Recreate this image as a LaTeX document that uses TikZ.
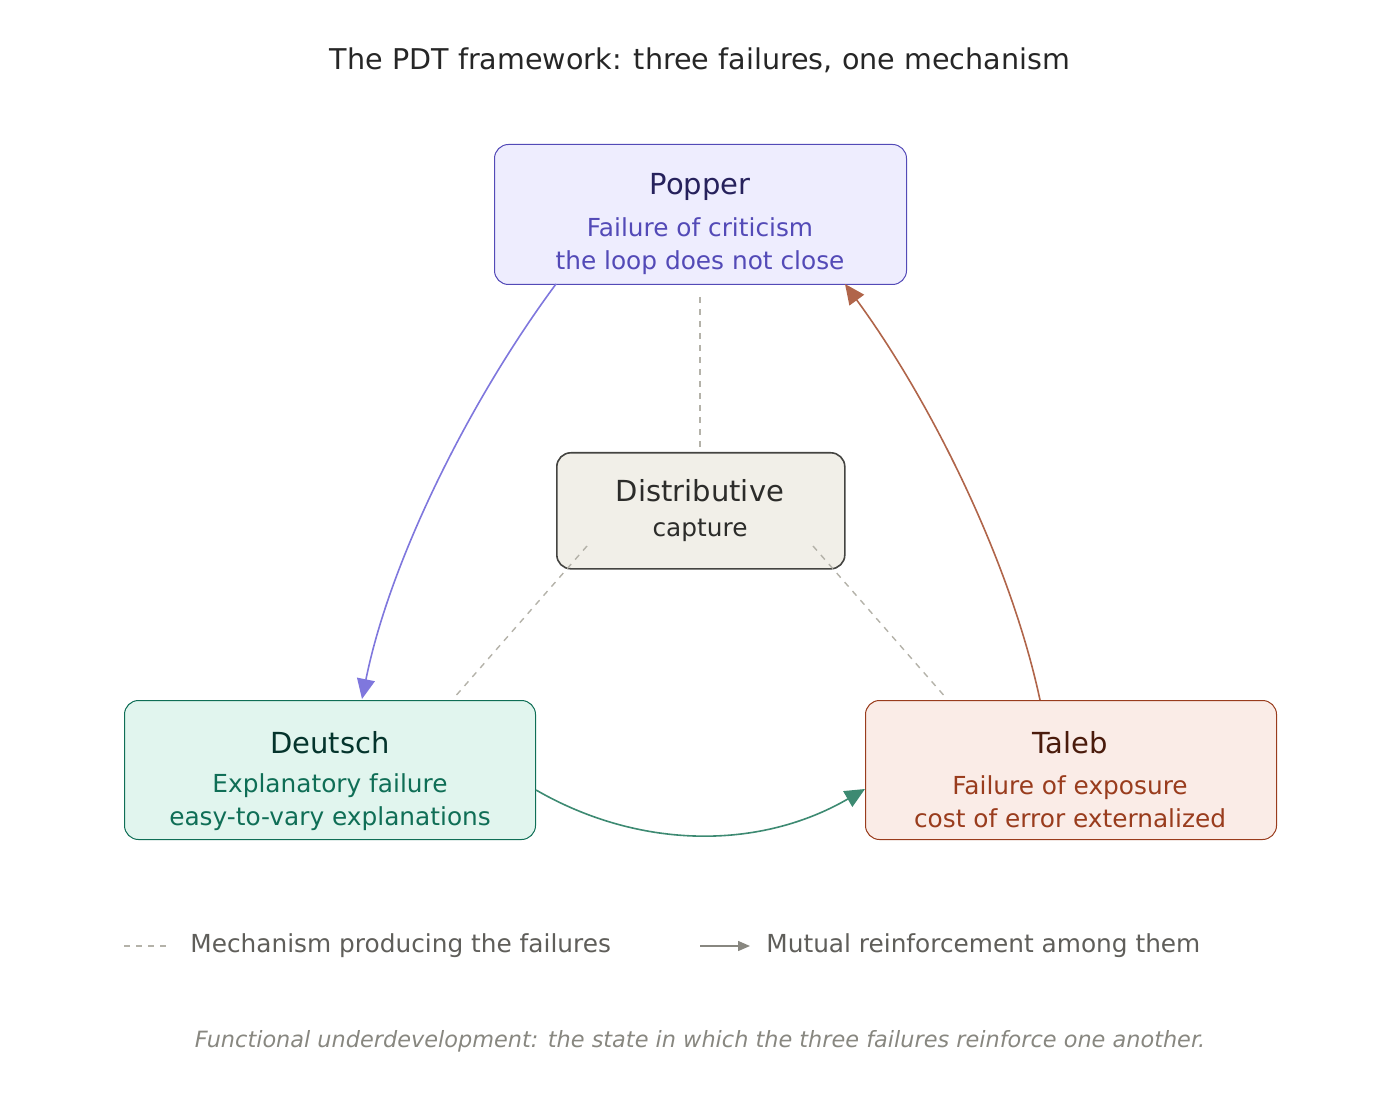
\documentclass[tikz,border=0pt]{standalone}
\usepackage{fontspec}
\setmainfont{DejaVu Sans}
\usetikzlibrary{arrows.meta}
\definecolor{pfill}{HTML}{EEEDFE}\definecolor{pbord}{HTML}{534AB7}\definecolor{ptit}{HTML}{26215C}
\definecolor{dfill}{HTML}{E1F5EE}\definecolor{dbord}{HTML}{0F6E56}\definecolor{dtit}{HTML}{04342C}
\definecolor{tfill}{HTML}{FAECE7}\definecolor{tbord}{HTML}{993C1D}\definecolor{ttit}{HTML}{4A1B0C}
\definecolor{mfill}{HTML}{F1EFE8}\definecolor{mbord}{HTML}{444441}\definecolor{mtit}{HTML}{2C2C2A}
\definecolor{parr}{HTML}{7F77DD}\definecolor{garr}{HTML}{3D8A72}\definecolor{tarr}{HTML}{B0654A}
\definecolor{dashcol}{HTML}{B4B2A9}\definecolor{leg}{HTML}{5F5E5A}\definecolor{foot}{HTML}{888780}
\begin{document}
\begin{tikzpicture}[x=0.5pt,y=-0.5pt,
  box/.style={draw,rounded corners=7pt,line width=0.5pt,anchor=north west,inner sep=0pt},
  tit/.style={font=\fontsize{14.5}{17}\selectfont},
  sub/.style={font=\fontsize{12.4}{16.5}\selectfont,align=center},
  arr/.style={line width=0.8pt,-{Triangle[length=10pt,width=9pt]}},
  dsh/.style={draw=dashcol,line width=0.7pt,dash pattern=on 3pt off 3pt}]
\useasboundingbox (0,0) rectangle (1400,1111);
\node[font=\fontsize{14.3}{17}\selectfont,text=black!85] (title) at (700,60) {The PDT framework: three failures, one mechanism};
% boxes
\node[box,fill=pfill,draw=pbord,minimum width=206pt,minimum height=70pt] (P) at (494,144) {};
\node[box,fill=mfill,draw=mbord,line width=0.8pt,minimum width=144pt,minimum height=58pt] (M) at (556,452) {};
\node[box,fill=dfill,draw=dbord,minimum width=205.5pt,minimum height=69.5pt] (D) at (124,700) {};
\node[box,fill=tfill,draw=tbord,minimum width=205.5pt,minimum height=69.5pt] (T) at (865,700) {};
% texts
\node[tit,text=ptit] (Pt) at (700,187) {Popper};
\node[sub,text=pbord] (Ps) at (700,246) {Failure of criticism\\the loop does not close};
\node[tit,text=mtit] (Mt) at (700,491) {Distributive};
\node[sub,text=mtit] (Ms) at (700,530) {capture};
\node[tit,text=dtit] (Dt) at (330,743) {Deutsch};
\node[sub,text=dbord] (Ds) at (330,802) {Explanatory failure\\easy-to-vary explanations};
\node[tit,text=ttit] (Tt) at (1070,743) {Taleb};
\node[sub,text=tbord] (Ts) at (1070,802) {Failure of exposure\\cost of error externalized};
% dashed mechanism lines
\coordinate (a1) at (700,297); \coordinate (a2) at (700,452);
\coordinate (b1) at (587,546); \coordinate (b2) at (453,699);
\coordinate (c1) at (813,546); \coordinate (c2) at (947,699);
\draw[dsh] (a1) -- (a2);
\draw[dsh] (b1) -- (b2);
\draw[dsh] (c1) -- (c2);
% arrows
\coordinate (p1) at (556,284); \coordinate (d1) at (362,699);
\coordinate (d2) at (536,790); \coordinate (t2) at (865,789);
\coordinate (t3) at (1040,700); \coordinate (p3) at (845,284);
\draw[arr,draw=parr] (p1) .. controls (470,400) and (390,560) .. (d1);
\draw[arr,draw=garr] (d2) .. controls (640,850) and (760,850) .. (t2);
\draw[arr,draw=tarr] (t3) .. controls (1010,560) and (930,400) .. (p3);
% legend
\coordinate (l1) at (124,946); \coordinate (l2) at (170,946);
\draw[dsh] (l1) -- (l2);
\node[anchor=west,font=\fontsize{12.4}{15}\selectfont,text=leg,inner sep=0pt] (L1) at (190,946) {Mechanism producing the failures};
\coordinate (m1) at (700,946); \coordinate (m2) at (750,946);
\draw[line width=0.7pt,draw=foot,-{Triangle[length=6pt,width=5pt]}] (m1) -- (m2);
\node[anchor=west,font=\fontsize{12.4}{15}\selectfont,text=leg,inner sep=0pt] (L2) at (766,946) {Mutual reinforcement among them};
\node[font=\fontsize{11.2}{14}\selectfont\itshape,text=foot] (F) at (700,1041) {Functional underdevelopment: the state in which the three failures reinforce one another.};
\end{tikzpicture}
\end{document}
